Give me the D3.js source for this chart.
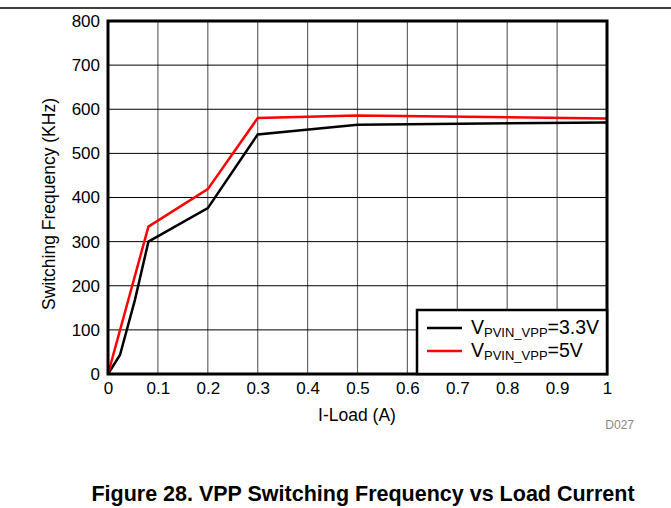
<!DOCTYPE html>
<html><head><meta charset="utf-8">
<script src="https://cdn.jsdelivr.net/npm/d3@7"></script>
<style>body{margin:0;background:#fff;} svg{display:block;font-family:"Liberation Sans",Arial,sans-serif;}</style>
</head><body><div id="c"></div>
<script>
const xTicks = [0,0.1,0.2,0.3,0.4,0.5,0.6,0.7,0.8,0.9,1];
const yTicks = [0,100,200,300,400,500,600,700,800];
const load33 = [0,0.024,0.054,0.081,0.2,0.3,0.5,1.0];
const freq33 = [0,43,168,300,376,543,565,570];
const load5 = [0,0.081,0.2,0.3,0.5,1.0];
const freq5 = [0,334,419,580,586,579];

const W=671,H=508;
const svg=d3.select("#c").append("svg").attr("width",W).attr("height",H);
const m={l:108,r:607,t:21,b:374};
const x=d3.scaleLinear().domain([0,1]).range([m.l,m.r]);
const y=d3.scaleLinear().domain([0,800]).range([m.b,m.t]);

svg.append("line").attr("x1",0).attr("x2",W).attr("y1",8).attr("y2",8).attr("stroke","#000").attr("stroke-width",1.3);

svg.append("g").selectAll("line").data(xTicks.slice(1,-1)).join("line")
 .attr("x1",d=>x(d)).attr("x2",d=>x(d)).attr("y1",m.t).attr("y2",m.b).attr("stroke","#666").attr("stroke-width",1.2);
svg.append("g").selectAll("line").data(yTicks.slice(1,-1)).join("line")
 .attr("x1",m.l).attr("x2",m.r).attr("y1",d=>y(d)).attr("y2",d=>y(d)).attr("stroke","#000").attr("stroke-width",1);

const xa=svg.append("g").attr("transform",`translate(0,${m.b})`).call(d3.axisBottom(x).tickValues(xTicks).tickSize(0).tickPadding(8).tickFormat(d=>d3.format("")(d)));
const ya=svg.append("g").attr("transform",`translate(${m.l},0)`).call(d3.axisLeft(y).tickValues(yTicks).tickSize(0).tickPadding(8));
[xa,ya].forEach(a=>{a.select(".domain").remove();a.selectAll("text").attr("font-size",17).attr("fill","#000").attr("font-family","Liberation Sans, Arial, sans-serif");});

const line=d3.line().x(d=>x(d[0])).y(d=>y(d[1]));
svg.append("path").datum(load33.map((d,i)=>[d,freq33[i]])).attr("d",line).attr("fill","none").attr("stroke","#000").attr("stroke-width",2.5);
svg.append("path").datum(load5.map((d,i)=>[d,freq5[i]])).attr("d",line).attr("fill","none").attr("stroke","#f00").attr("stroke-width",2.5);

svg.append("rect").attr("x",m.l).attr("y",m.t).attr("width",m.r-m.l).attr("height",m.b-m.t).attr("fill","none").attr("stroke","#000").attr("stroke-width",3);

const lg=svg.append("g");
lg.append("rect").attr("x",417).attr("y",310).attr("width",190).attr("height",64).attr("fill","#fff").attr("stroke","#000").attr("stroke-width",2.5);
const leg=[{c:"#000",v:"=3.3V",yy:328},{c:"#f00",v:"=5V",yy:351}];
leg.forEach(l=>{
 lg.append("line").attr("x1",427).attr("x2",462).attr("y1",l.yy).attr("y2",l.yy).attr("stroke",l.c).attr("stroke-width",2.5);
 const t=lg.append("text").attr("x",471).attr("y",l.yy+6).attr("font-size",19.5);
 t.append("tspan").text("V");
 t.append("tspan").attr("font-size",13).attr("dy",3).text("PVIN_VPP");
 t.append("tspan").attr("dy",-3).text(l.v);
});

svg.append("text").attr("x",357).attr("y",421).attr("text-anchor","middle").attr("font-size",17.5).text("I-Load (A)");
svg.append("text").attr("transform","translate(55,204) rotate(-90)").attr("text-anchor","middle").attr("font-size",17.5).text("Switching Frequency (KHz)");
svg.append("text").attr("x",634).attr("y",429).attr("text-anchor","end").attr("font-size",12).attr("fill","#888").text("D027");
svg.append("text").attr("x",363).attr("y",501).attr("text-anchor","middle").attr("font-size",21.5).attr("font-weight","bold").text("Figure 28. VPP Switching Frequency vs Load Current");
</script></body></html>
